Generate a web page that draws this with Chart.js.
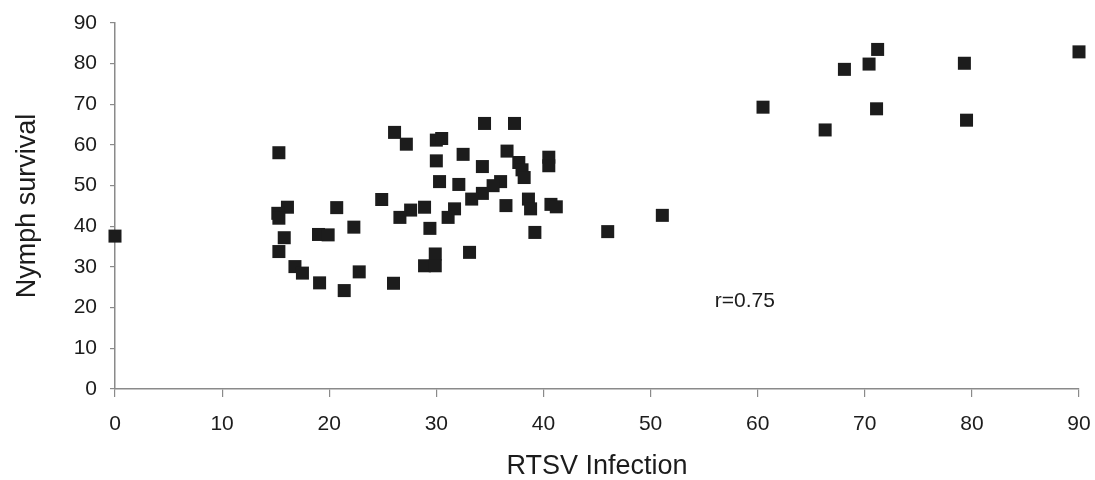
<!DOCTYPE html>
<html>
<head>
<meta charset="utf-8">
<title>Nymph survival vs RTSV Infection</title>
<script src="https://cdn.jsdelivr.net/npm/chart.js@4/dist/chart.umd.min.js"></script>
<style>
  html, body { margin: 0; padding: 0; background: #fff; }
  #wrap { width: 1095px; height: 480px; }
</style>
</head>
<body>
<div id="wrap"><canvas id="scatterChart" width="1095" height="480"></canvas></div>
<script>
// RTSV infection (%) per sample
const infection = [
  0, 15.3, 16.1, 15.2, 15.3, 15.8, 15.3, 16.8, 17.5, 19.0, 19.9, 19.1,
  26.1, 27.2, 30.0, 30.5, 34.5, 37.3, 32.5, 30.0, 34.3, 36.6, 37.7, 38.0,
  38.2, 40.5, 40.5, 30.3, 32.1, 36.0, 35.3, 34.3, 33.3, 24.9, 20.7, 22.3,
  27.6, 26.6, 28.9, 31.7, 31.1, 29.4, 36.5, 38.6, 38.8, 40.7, 41.2, 39.2,
  33.1, 29.9, 28.9, 29.9, 21.4, 22.8, 26.0,
  71.2, 68.1, 70.4, 79.3, 90.0, 60.5, 71.1, 66.3, 79.5, 51.1, 46.0
];
// nymph survival (%) per sample
const survival = [
  37.6, 58.1, 44.7, 43.2, 42.0, 37.2, 33.8, 30.1, 28.5, 38.0, 37.9, 26.1,
  63.1, 60.2, 61.2, 61.6, 65.3, 65.3, 57.7, 56.1, 54.7, 58.5, 55.7, 53.9,
  52.0, 57.0, 54.9, 51.0, 50.3, 51.0, 50.0, 48.1, 46.7, 46.6, 44.6, 39.8,
  44.0, 42.2, 44.7, 44.3, 42.2, 39.5, 45.1, 46.7, 44.3, 45.4, 44.8, 38.5,
  33.6, 33.2, 30.3, 30.3, 24.2, 28.8, 26.0,
  83.5, 78.6, 79.9, 80.1, 82.9, 69.3, 68.9, 63.7, 66.1, 42.7, 38.7
];
const xTicks = [0, 10, 20, 30, 40, 50, 60, 70, 80, 90];
const yTicks = [0, 10, 20, 30, 40, 50, 60, 70, 80, 90];
const corrLabel = 'r=0.75';
const corrAt = [58.8, 21.5];

const points = infection.map((x, i) => ({ x: x, y: survival[i] }));

const fontFamily = '"Liberation Sans", Arial, sans-serif';
const inkColor = '#1c1c1c';
const axisColor = '#8a8a8a';

// writes the correlation note at a data position
const corrPlugin = {
  id: 'corrNote',
  afterDatasetsDraw(chart) {
    const ctx = chart.ctx;
    const xs = chart.scales.x;
    const ys = chart.scales.y;
    ctx.save();
    ctx.font = '21px ' + fontFamily;
    ctx.fillStyle = inkColor;
    ctx.textAlign = 'center';
    ctx.textBaseline = 'middle';
    ctx.fillText(corrLabel, xs.getPixelForValue(corrAt[0]), ys.getPixelForValue(corrAt[1]));
    ctx.restore();
  }
};

new Chart(document.getElementById('scatterChart').getContext('2d'), {
  type: 'scatter',
  data: {
    datasets: [{
      label: 'Nymph survival',
      data: points,
      clip: false,
      pointStyle: 'rect',
      pointRadius: 9.2,
      pointHoverRadius: 9.2,
      backgroundColor: inkColor,
      borderColor: inkColor,
      borderWidth: 0
    }]
  },
  options: {
    responsive: false,
    animation: false,
    events: [],
    layout: { autoPadding: false, padding: { top: 23, right: 16, bottom: 0, left: 0 } },
    plugins: {
      legend: { display: false },
      tooltip: { enabled: false }
    },
    scales: {
      x: {
        type: 'linear',
        min: 0,
        max: 90,
        afterBuildTicks: (scale) => { scale.ticks = xTicks.map(v => ({ value: v })); },
        afterFit: (scale) => {
          scale.height = 91;
          scale.paddingLeft = 0;
          scale.paddingRight = 0;
        },
        border: { display: true, color: axisColor, width: 1.5 },
        grid: { drawOnChartArea: false, color: axisColor, tickLength: 8, lineWidth: 1.2 },
        ticks: {
          padding: 15,
          maxRotation: 0,
          color: inkColor,
          font: { family: fontFamily, size: 21 }
        },
        title: {
          display: true,
          text: 'RTSV Infection',
          color: inkColor,
          padding: { top: 0, bottom: 0 },
          font: { family: fontFamily, size: 27, lineHeight: 1.0 }
        }
      },
      y: {
        type: 'linear',
        min: 0,
        max: 90,
        afterBuildTicks: (scale) => { scale.ticks = yTicks.map(v => ({ value: v })); },
        afterFit: (scale) => {
          scale.width = 115;
          scale.paddingTop = 0;
          scale.paddingBottom = 0;
        },
        border: { display: true, color: axisColor, width: 1.5 },
        grid: { drawOnChartArea: false, color: axisColor, tickLength: 5, lineWidth: 1.2 },
        ticks: {
          padding: 13,
          color: inkColor,
          font: { family: fontFamily, size: 21 }
        },
        title: {
          display: true,
          text: 'Nymph survival',
          color: inkColor,
          padding: { top: 14, bottom: 0 },
          font: { family: fontFamily, size: 27, lineHeight: 1.0 }
        }
      }
    }
  },
  plugins: [corrPlugin]
});
</script>
</body>
</html>
